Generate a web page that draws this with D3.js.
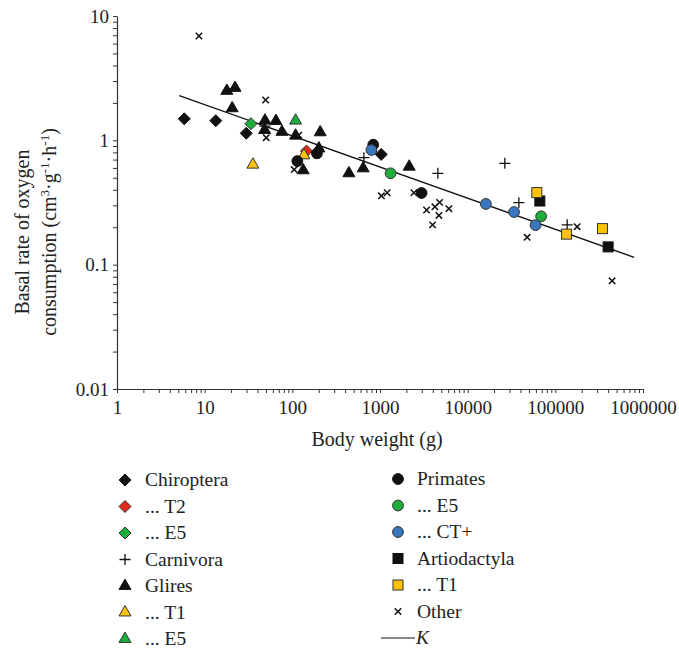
<!DOCTYPE html>
<html>
<head>
<meta charset="utf-8">
<script src="https://cdn.jsdelivr.net/npm/d3@7"></script>
<style>
  body { margin: 0; background: #fff; }
  svg text { font-family: "Liberation Serif", "DejaVu Serif", serif; fill: #222; }
</style>
</head>
<body>
<div id="chart"></div>
<script>
'use strict';

// body weight (g), basal rate (cm3/g/h) per group
var chiroptera = [[5.85, 1.49], [13.4, 1.44], [29.8, 1.14], [1032, 0.771]];
var chiropteraT2 = [[145, 0.82]];
var chiropteraE5 = [[33.7, 1.36]];
var carnivora = [[48.7, 1.30], [655, 0.725], [4571, 0.543], [26550, 0.653], [38370, 0.315], [136400, 0.209]];
var glires = [[17.9, 2.50], [22.2, 2.64], [20.6, 1.81], [48.7, 1.44], [65.0, 1.43], [48.3, 1.21],
    [76.1, 1.17], [109, 1.09], [208, 1.16], [201, 0.86], [133, 0.574], [442, 0.543], [643, 0.595], [2153, 0.614]];
var gliresT1 = [[35.5, 0.637], [135.6, 0.757]];
var gliresE5 = [[109, 1.44]];
var primates = [[114, 0.681], [191, 0.786], [837, 0.922], [2980, 0.377]];
var primatesE5 = [[1321, 0.543], [68900, 0.245]];
var primatesCT = [[798, 0.836], [16130, 0.308], [33820, 0.265], [59450, 0.208]];
var artiodactyla = [[66550, 0.325], [400000, 0.139]];
var artiodactylaT1 = [[61500, 0.380], [134200, 0.176], [345000, 0.195]];
var other = [[8.61, 6.90], [49.6, 2.11], [50.4, 1.05], [118, 1.10], [105, 0.582], [1038, 0.358], [1208, 0.379],
    [2436, 0.379], [3399, 0.275], [4227, 0.292], [4783, 0.317], [4699, 0.249], [3980, 0.209], [6105, 0.282],
    [47700, 0.166], [177300, 0.202], [444400, 0.0741]];
var kLine = [[5.13, 2.29], [792000, 0.1146]];

var xTicks = [1, 10, 100, 1000, 10000, 100000, 1000000];
var yTicks = [0.01, 0.1, 1, 10];

var RED = "#e2291c", GREEN = "#1fae3c", YELLOW = "#fcc10a", BLUE = "#3a76bd", DARK = "#111";

var groups = [
    {name: "Chiroptera", data: chiroptera, shape: "diamond", fill: DARK},
    {name: "... T2", data: chiropteraT2, shape: "diamond", fill: RED},
    {name: "... E5", data: chiropteraE5, shape: "diamond", fill: GREEN},
    {name: "Carnivora", data: carnivora, shape: "plus"},
    {name: "Glires", data: glires, shape: "triangle", fill: DARK},
    {name: "... T1", data: gliresT1, shape: "triangle", fill: YELLOW},
    {name: "... E5", data: gliresE5, shape: "triangle", fill: GREEN},
    {name: "Primates", data: primates, shape: "circle", fill: DARK},
    {name: "... E5", data: primatesE5, shape: "circle", fill: GREEN},
    {name: "... CT+", data: primatesCT, shape: "circle", fill: BLUE},
    {name: "Artiodactyla", data: artiodactyla, shape: "square", fill: DARK},
    {name: "... T1", data: artiodactylaT1, shape: "square", fill: YELLOW},
    {name: "Other", data: other, shape: "times"}
];

var MARGIN = {TOP: 16, LEFT: 117},
    WIDTH = 526,
    HEIGHT = 373;

var svg = d3.select("#chart").append("svg")
    .attr("width", 679)
    .attr("height", 650);

var plot = svg.append("g")
    .attr("transform", "translate(" + MARGIN.LEFT + "," + MARGIN.TOP + ")");

var x = d3.scaleLog().domain([1, 1000000]).range([0, WIDTH]);
var y = d3.scaleLog().domain([0.01, 10]).range([HEIGHT, 0]);

function minorTicks(lo, hi) {
    var out = [];
    for (var d = lo; d < hi; d *= 10) {
        for (var k = 1; k < 10; k++) out.push(d * k);
    }
    out.push(hi);
    return out;
}

function isDecade(v) {
    var l = Math.log10(v);
    return Math.abs(l - Math.round(l)) < 1e-9;
}

var xAxis = plot.append("g")
    .attr("transform", "translate(0," + HEIGHT + ")")
    .call(d3.axisBottom(x).tickValues(minorTicks(1, 1000000)).tickSize(4).tickSizeOuter(0)
        .tickFormat(function (d) { return isDecade(d) ? d3.format("d")(d) : ""; }));
xAxis.selectAll("text").attr("dy", "0.95em").style("font-size", "19px");

var yAxis = plot.append("g")
    .call(d3.axisLeft(y).tickValues(minorTicks(0.01, 10)).tickSize(4).tickSizeOuter(0)
        .tickFormat(function (d) { return isDecade(d) ? (d < 1 ? String(+d.toFixed(2)) : d3.format("d")(d)) : ""; }));
yAxis.selectAll("text").attr("x", -8).style("font-size", "19px");

[xAxis, yAxis].forEach(function (a) {
    a.attr("font-family", null);
    a.select(".domain").attr("stroke", "#333").attr("stroke-width", 1.2);
    a.selectAll(".tick line").attr("stroke", "#333");
    a.selectAll("text").attr("fill", "#222");
});

// fitted line K
plot.append("path")
    .attr("d", d3.line().x(function (d) { return x(d[0]); }).y(function (d) { return y(d[1]); })(kLine))
    .attr("fill", "none")
    .attr("stroke", "#111")
    .attr("stroke-width", 1.4);

function drawMarker(sel, g) {
    var p;
    if (g.shape === "diamond") {
        p = sel.append("path").attr("d", "M0,-6L6,0L0,6L-6,0Z");
    } else if (g.shape === "triangle") {
        p = sel.append("path").attr("d", d3.symbol().type(d3.symbolTriangle).size(62)());
    } else if (g.shape === "circle") {
        p = sel.append("circle").attr("r", 5.4);
    } else if (g.shape === "square") {
        p = sel.append("rect").attr("x", -5).attr("y", -5).attr("width", 10).attr("height", 10);
    } else if (g.shape === "plus") {
        return sel.append("path").attr("d", "M-5.5,0H5.5M0,-5.5V5.5")
            .attr("stroke", "#111").attr("stroke-width", 1.3).attr("fill", "none");
    } else {
        return sel.append("path").attr("d", "M-3.2,-3.2L3.2,3.2M-3.2,3.2L3.2,-3.2")
            .attr("stroke", "#111").attr("stroke-width", 1.5).attr("fill", "none");
    }
    p.attr("fill", g.fill)
        .attr("stroke", g.fill === DARK ? DARK : "#333")
        .attr("stroke-width", 1);
    return p;
}

var marks = plot.append("g").attr("id", "points");
groups.forEach(function (g) {
    g.data.forEach(function (d) {
        var m = marks.append("g")
            .attr("transform", "translate(" + x(d[0]) + "," + y(d[1]) + ")");
        drawMarker(m, g);
    });
});

// axis titles
svg.append("text")
    .attr("x", MARGIN.LEFT + WIDTH / 2 - 3)
    .attr("y", 446)
    .attr("text-anchor", "middle")
    .style("font-size", "20px")
    .text("Body weight (g)");

var yTitle = svg.append("g")
    .attr("transform", "translate(0,232) rotate(-90)")
    .attr("text-anchor", "middle")
    .style("font-size", "20px");
yTitle.append("text").attr("x", 0).attr("y", 29).text("Basal rate of oxygen");
var t2 = yTitle.append("text").attr("x", 0).attr("y", 56);
t2.append("tspan").text("consumption (cm");
t2.append("tspan").attr("dy", -7).style("font-size", "13px").text("3");
t2.append("tspan").attr("dy", 7).text("\u00b7g");
t2.append("tspan").attr("dy", -7).style("font-size", "13px").text("-1");
t2.append("tspan").attr("dy", 7).text("\u00b7h");
t2.append("tspan").attr("dy", -7).style("font-size", "13px").text("-1");
t2.append("tspan").attr("dy", 7).text(")");

// legend
var legend = svg.append("g").style("font-size", "19.5px");
groups.forEach(function (g, i) {
    var col = i < 7 ? 0 : 1,
        row = col ? i - 7 : i,
        lx = col ? 398 : 125,
        ly = (col ? 479 : 480) + row * 26.5;
    var item = legend.append("g").attr("transform", "translate(" + lx + "," + ly + ")");
    drawMarker(item, g);
    item.append("text").attr("x", col ? 19 : 20).attr("y", 6).text(g.name);
});
var kRow = legend.append("g").attr("transform", "translate(381," + (479 + 6 * 26.5) + ")");
kRow.append("line").attr("x1", 0).attr("x2", 34).attr("stroke", "#111").attr("stroke-width", 1.2);
kRow.append("text").attr("x", 35).attr("y", 6).style("font-style", "italic").text("K");
</script>
</body>
</html>
